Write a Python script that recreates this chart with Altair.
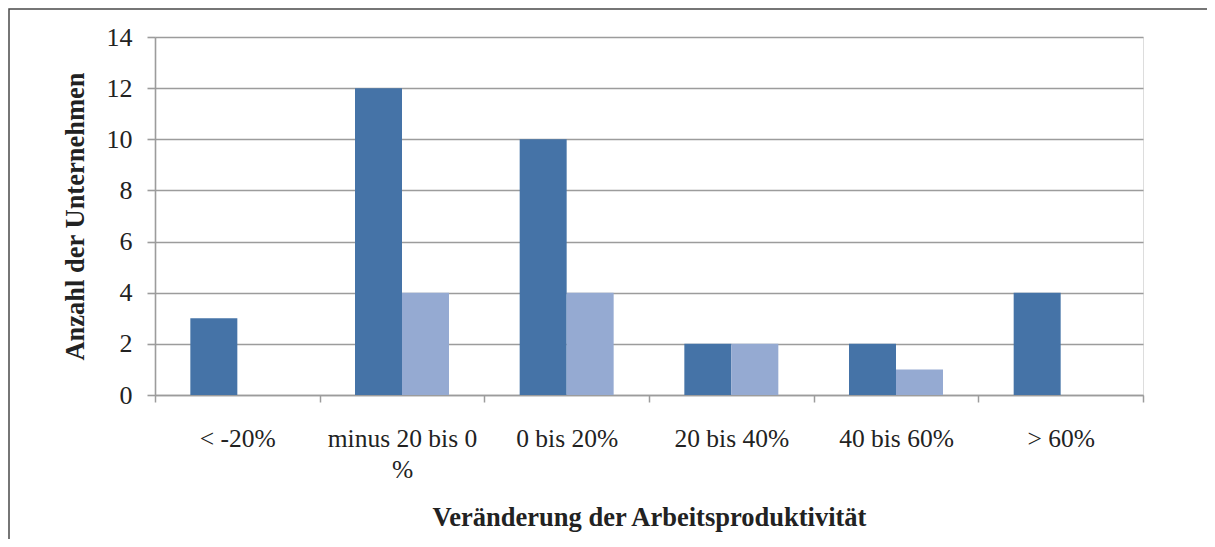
import altair as alt
import pandas as pd

categories = ["< -20%", "minus 20 bis 0 %", "0 bis 20%", "20 bis 40%", "40 bis 60%", "> 60%"]
series_names = ["Reihe 1", "Reihe 2"]
values_1 = [3, 12, 10, 2, 2, 4]
values_2 = [0, 4, 4, 2, 1, 0]
colors = ["#4573A7", "#95AAD2"]

rows = []
for c, a, b in zip(categories, values_1, values_2):
    rows.append({"cat": c, "series": series_names[0], "val": a})
    rows.append({"cat": c, "series": series_names[1], "val": b})
df = pd.DataFrame(rows)

FONT = "Times New Roman, Liberation Serif, serif"
GRID = "#9C9C9C"

bars = alt.Chart(df).mark_bar().encode(
    x=alt.X("cat:N", sort=categories,
            scale=alt.Scale(paddingInner=0, paddingOuter=0),
            axis=alt.Axis(title="Veränderung der Arbeitsproduktivität",
                          tickBand="extent", labelAngle=0, grid=False,
                          domainColor=GRID, domainWidth=1.5,
                          tickColor=GRID, tickWidth=1.5, tickSize=7,
                          labelFont=FONT, labelFontSize=25.5, labelColor="#222",
                          labelPadding=24, labelLineHeight=31,
                          labelBaseline="top",
                          labelExpr="datum.value == 'minus 20 bis 0 %' ? ['minus 20 bis 0', '%'] : datum.label",
                          titleFont=FONT, titleFontSize=26.5, titleFontWeight="bold",
                          titleColor="#222", titlePadding=22)),
    xOffset=alt.XOffset("series:N", sort=series_names,
                        scale=alt.Scale(paddingInner=0, paddingOuter=0.752)),
    y=alt.Y("val:Q", scale=alt.Scale(domain=[0, 14], nice=False),
            axis=alt.Axis(title="Anzahl der Unternehmen", values=list(range(0, 15, 2)),
                          grid=True, gridColor=GRID, gridWidth=1.6,
                          domainColor=GRID, domainWidth=1.6,
                          tickColor=GRID, tickWidth=1.6, tickSize=8,
                          labelFont=FONT, labelFontSize=26, labelColor="#222",
                          labelPadding=15,
                          titleFont=FONT, titleFontSize=26.5, titleFontWeight="bold",
                          titleColor="#222", titlePadding=17)),
    color=alt.Color("series:N", sort=series_names,
                    scale=alt.Scale(domain=series_names, range=colors), legend=None),
)

frame = alt.Chart(pd.DataFrame({"d": [0]})).mark_rect(
    filled=False, stroke="#4A4A4A", strokeWidth=1.5
).encode(
    x=alt.value(-146), x2=alt.value(1055), y=alt.value(-28), y2=alt.value(540)
)

chart = alt.layer(bars, frame).properties(
    width=988, height=358,
    autosize=alt.AutoSizeParams(type="none"),
    padding={"left": 147, "top": 29, "right": 64, "bottom": 144},
).configure_view(stroke=None).configure(background="white")

chart.save("out.html", embed_options={"renderer": "svg", "actions": False})
